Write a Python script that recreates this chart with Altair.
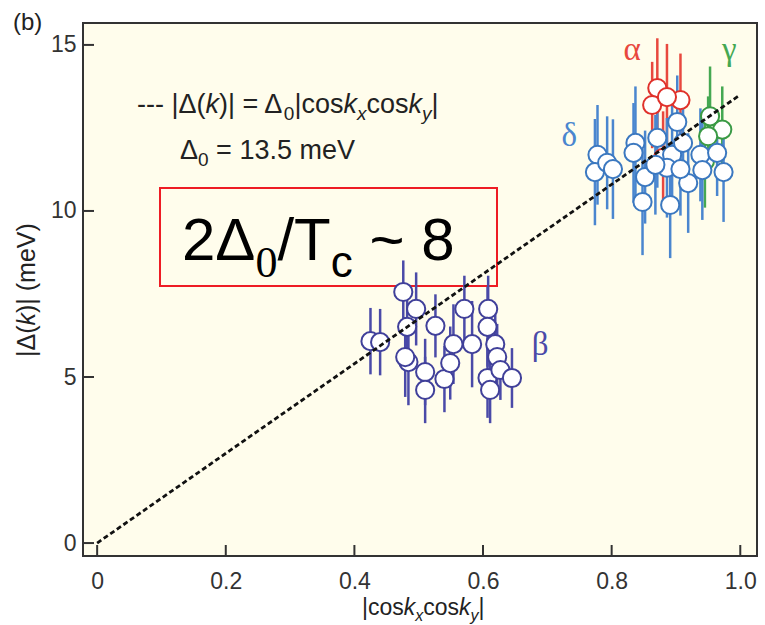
import altair as alt
import pandas as pd

# ---------------- data ----------------
alpha_x = [0.871, 0.863, 0.907, 0.886, 0.880]
alpha_y = [13.70, 13.19, 13.34, 13.43, 11.60]
alpha_e = [1.5, 1.3, 1.4, 1.6, 1.4]

gamma_x = [0.953, 0.972, 0.950, 0.945]
gamma_y = [12.85, 12.45, 12.25, 11.50]
gamma_e = [1.5, 1.3, 1.2, 1.4]

delta_x = [0.778, 0.774, 0.793, 0.802, 0.837, 0.834, 0.852, 0.848, 0.871, 0.902, 0.894,
           0.886, 0.911, 0.919, 0.891, 0.938, 0.941, 0.964, 0.974, 0.907, 0.868]
delta_y = [11.69, 11.17, 11.45, 11.26, 12.05, 11.75, 11.02, 10.27, 12.20, 12.68, 11.69,
           11.30, 12.05, 10.84, 10.18, 11.69, 11.23, 11.75, 11.17, 11.26, 11.39]
delta_e = [1.5, 1.6, 1.4, 1.5, 1.7, 1.5, 1.4, 1.6, 1.5, 1.4, 1.6,
           1.5, 1.4, 1.5, 1.6, 1.4, 1.5, 1.3, 1.5, 1.4, 1.5]

beta_x = [0.425, 0.440, 0.476, 0.496, 0.482, 0.526, 0.484, 0.479, 0.510, 0.510, 0.540, 0.549,
          0.554, 0.571, 0.583, 0.608, 0.607, 0.619, 0.622, 0.607, 0.611, 0.627, 0.645]
beta_y = [6.08, 6.05, 7.56, 7.05, 6.51, 6.54, 5.45, 5.60, 5.15, 4.61, 4.94, 5.42,
          5.99, 7.05, 5.99, 7.05, 6.51, 5.99, 5.60, 4.97, 4.61, 5.21, 4.97]
beta_e = [1.0, 1.0, 0.95, 1.1, 1.2, 0.95, 1.3, 1.2, 1.0, 1.0, 1.0, 1.1,
          1.2, 1.0, 1.3, 1.0, 1.2, 1.1, 1.0, 1.2, 1.0, 0.9, 0.9]

groups = ["α", "γ", "δ", "β"]
point_colors = ["#e0312b", "#3a9a45", "#3b78c0", "#40409a"]
bar_colors = ["#e8483e", "#45a852", "#4a86cf", "#4a4aa8"]

fit_x = [0.0, 1.0]
fit_y = [0.0, 13.5]

x_ticks = [0, 0.2, 0.4, 0.6, 0.8, 1.0]
y_ticks = [0, 5, 10, 15]

# group label positions (data coords)
label_x = [0.832, 0.983, 0.734, 0.689]
label_y = [14.85, 14.85, 12.25, 5.95]

# ---------------- layout ----------------
LEFT, TOP, W, H = 83, 23, 674, 533
xdom = [-0.022, 1.026]
ydom = [-0.39, 15.66]
SANS = "Liberation Sans"
SERIF = "Liberation Serif"
TXT = "#222222"

rows = []
for g, xs_, ys_, es_ in [("α", alpha_x, alpha_y, alpha_e), ("γ", gamma_x, gamma_y, gamma_e),
                         ("δ", delta_x, delta_y, delta_e), ("β", beta_x, beta_y, beta_e)]:
    for x, y, e in zip(xs_, ys_, es_):
        rows.append({"group": g, "x": x, "y": y, "lo": y - e, "hi": y + e})
df = pd.DataFrame(rows)

xs = alt.Scale(domain=xdom, nice=False, zero=False)
ys = alt.Scale(domain=ydom, nice=False, zero=False)
xaxis = alt.Axis(values=x_ticks, labelExpr="datum.value == 0 ? '0' : format(datum.value, '.1f')",
                 ticks=False, domain=False, grid=False, title=None, labelFontSize=23,
                 labelFont=SANS, labelColor="#333333", labelPadding=14)
yaxis = alt.Axis(values=y_ticks, ticks=False, domain=False, grid=False, title=None,
                 labelFontSize=23, labelFont=SANS, labelColor="#333333", labelPadding=7)

base = alt.Chart(df)
bars = base.mark_rule(strokeWidth=2.5).encode(
    x=alt.X("x:Q", scale=xs, axis=xaxis),
    y=alt.Y("lo:Q", scale=ys, axis=yaxis),
    y2="hi:Q",
    color=alt.Color("group:N", scale=alt.Scale(domain=groups, range=bar_colors), legend=None),
)
pts = base.mark_point(shape="circle", filled=True, fill="white", fillOpacity=1, opacity=1,
                      strokeWidth=2, size=330).encode(
    x=alt.X("x:Q", scale=xs, axis=xaxis),
    y=alt.Y("y:Q", scale=ys, axis=yaxis),
    stroke=alt.Stroke("group:N", scale=alt.Scale(domain=groups, range=point_colors), legend=None),
)

fit = alt.Chart(pd.DataFrame({"x": fit_x, "y": fit_y})).mark_line(
    strokeDash=[5, 3], strokeWidth=2.8, color="#111111").encode(
    x=alt.X("x:Q", scale=xs, axis=xaxis), y=alt.Y("y:Q", scale=ys, axis=yaxis))

xt = alt.Chart(pd.DataFrame({"v": x_ticks})).mark_rule(color="#333333", strokeWidth=2).encode(
    x=alt.X("v:Q", scale=xs, axis=xaxis), y=alt.value(H), y2=alt.value(H - 11))
yt = alt.Chart(pd.DataFrame({"v": y_ticks})).mark_rule(color="#333333", strokeWidth=2).encode(
    y=alt.Y("v:Q", scale=ys, axis=yaxis), x=alt.value(0), x2=alt.value(11))

lab = alt.Chart(pd.DataFrame({"t": groups, "x": label_x, "y": label_y})).mark_text(
    font=SERIF, fontSize=33, baseline="middle", align="center").encode(
    x=alt.X("x:Q", scale=xs, axis=xaxis), y=alt.Y("y:Q", scale=ys, axis=yaxis), text="t:N",
    color=alt.Color("t:N", scale=alt.Scale(domain=groups, range=point_colors), legend=None))

one = pd.DataFrame({"a": [0]})
box = alt.Chart(one).mark_rect(fill="#fffdec", stroke="#ee1c24", strokeWidth=2).encode(
    x=alt.value(160 - LEFT), x2=alt.value(497 - LEFT), y=alt.value(188 - TOP), y2=alt.value(286 - TOP))

WID = {'|': 0.26, 'c': 0.5, 'o': 0.556, 's': 0.5, 'k': 0.5, 'x': 0.5, 'y': 0.5, 'Δ': 0.668,
       '(': 0.333, ')': 0.333, ' ': 0.278, '=': 0.584, '-': 0.333, '.': 0.278, 'm': 0.833,
       'e': 0.556, 'V': 0.667, '/': 0.278, 'T': 0.611, '~': 0.584}


def width(t, size, font):
    tot = 0
    for ch in t:
        if ch.isdigit():
            tot += 0.5 if font == SERIF else 0.556
        else:
            tot += WID.get(ch, 0.55)
    return tot * size


def rich(parts, x0, y0, angle=0, color=TXT):
    layers = []
    pos = x0
    for (t, size, font, style, dy) in parts:
        lead = len(t) - len(t.lstrip(" "))
        shift = lead * WID[' '] * size
        shown = t.strip(" ")
        p = pos + shift if angle == 0 else pos - shift
        if angle == 0:
            enc = dict(x=alt.value(p - LEFT), y=alt.value(y0 + dy - TOP))
            kw = dict(baseline="alphabetic")
        else:
            enc = dict(x=alt.value(y0 - LEFT), y=alt.value(p - TOP))
            kw = dict(baseline="middle", angle=angle)
        layers.append(alt.Chart(one).mark_text(text=shown, font=font, fontSize=size, fontStyle=style,
                                               align="left", color=color, **kw).encode(**enc))
        pos += width(t, size, font) if angle == 0 else -width(t, size, font)
    return layers


N, I = "normal", "italic"
texts = []
# legend line 1
texts += rich([("--- |Δ(", 27, SANS, N, 0), ("k", 27, SANS, I, 0), (")| = Δ", 27, SANS, N, 0),
               ("0", 19, SANS, N, 7), ("|cos", 27, SANS, N, 0), ("k", 27, SANS, I, 0),
               ("x", 19, SANS, I, 7), ("cos", 27, SANS, N, 0), ("k", 27, SANS, I, 0),
               ("y", 19, SANS, I, 7), ("|", 27, SANS, N, 0)], 137, 113)
# legend line 2
texts += rich([("Δ", 27, SANS, N, 0), ("0", 19, SANS, N, 7), (" = 13.5 meV", 27, SANS, N, 0)], 180, 159)
# boxed annotation
texts += rich([("2Δ", 60, SANS, N, 0), ("0", 44, SERIF, N, 17), ("/T", 60, SANS, N, 0),
               ("c", 44, SANS, N, 17), (" ~ 8", 60, SANS, N, 0)], 182, 260, color="#000000")
# x title
texts += rich([("|cos", 23, SANS, N, 0), ("k", 23, SANS, I, 0), ("x", 16, SANS, I, 6),
               ("cos", 23, SANS, N, 0), ("k", 23, SANS, I, 0), ("y", 16, SANS, I, 6),
               ("|", 23, SANS, N, 0)], 362, 615)
# y title (rotated)
texts += rich([("|Δ(", 25, SANS, N, 0), ("k", 25, SANS, I, 0), (")| (meV)", 25, SANS, N, 0)],
              357, 27, angle=270)
# panel label
texts += rich([("(b)", 24, SANS, N, 0)], 13, 30)

chart = alt.layer(box, bars, pts, fit, xt, yt, lab, *texts).properties(
    width=W, height=H,
    autosize=alt.AutoSizeParams(type="none"),
    padding={"left": LEFT, "top": TOP, "right": 765 - LEFT - W, "bottom": 625 - TOP - H},
    background="white",
).configure_view(fill="#fffdec", stroke="#333333", strokeWidth=2)

chart.save("out.html", embed_options={"renderer": "svg", "actions": False})
